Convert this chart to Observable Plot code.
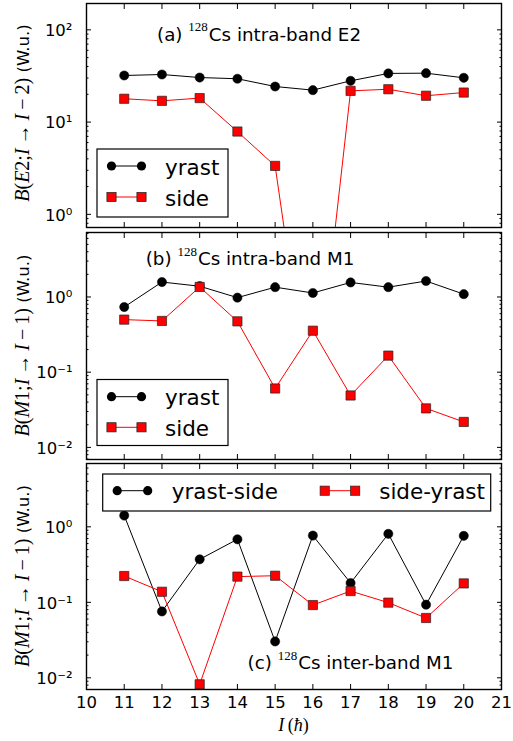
<!DOCTYPE html>
<html><head><meta charset="utf-8">
<script src="https://cdn.jsdelivr.net/npm/d3@7"></script>
<script src="https://cdn.jsdelivr.net/npm/@observablehq/plot@0.6"></script>
<style>
body{margin:0;background:#fff;}
#wrap{position:relative;width:513px;height:741px;font-family:"DejaVu Sans",sans-serif;}
#wrap > div{position:absolute;left:0;}
svg{display:block;overflow:visible}
</style></head><body><div id="wrap"></div>
<script>
// ---------------- data ----------------
const spins = [11, 12, 13, 14, 15, 16, 17, 18, 19, 20];
// (a) intra-band E2 (W.u.)
const e2Yrast = [32.0, 32.8, 30.4, 29.5, 24.3, 22.2, 28.0, 33.7, 33.9, 30.2];
const e2Side  = [17.9, 17.0, 18.2, 7.9, 3.35, 0.005, 21.8, 22.7, 19.3, 20.9];
// (b) intra-band M1 (W.u.)
const m1Yrast = [0.735, 1.58, 1.39, 0.98, 1.35, 1.13, 1.56, 1.35, 1.63, 1.09];
const m1Side  = [0.50, 0.48, 1.36, 0.474, 0.0607, 0.356, 0.049, 0.166, 0.033, 0.0218];
// (c) inter-band M1 (W.u.)
const interYrastSide = [1.41, 0.0757, 0.371, 0.684, 0.0303, 0.766, 0.180, 0.807, 0.093, 0.759];
const interSideYrast = [0.223, 0.138, 0.0082, 0.219, 0.225, 0.092, 0.141, 0.099, 0.062, 0.178];

const xTicks = [10, 11, 12, 13, 14, 15, 16, 17, 18, 19, 20, 21];
const yMajorA = [1, 10, 100];
const yMajorB = [0.01, 0.1, 1];
const yMajorC = [0.01, 0.1, 1];

const legendA = ["yrast", "side"];
const legendB = ["yrast", "side"];
const legendC = ["yrast-side", "side-yrast"];
const titleA = ["(a) ", "128", "Cs intra-band E2"];
const titleB = ["(b) ", "128", "Cs intra-band M1"];
const titleC = ["(c) ", "128", "Cs inter-band M1"];
const yLabelE2 = ["E", "2", "2"];
const yLabelM1 = ["M", "1", "1"];

// ---------------- helpers ----------------
const SERIF = "'Liberation Serif','DejaVu Serif',serif";
const SANS = "'DejaVu Sans',sans-serif";
const supMap = {"-":"\u207B","0":"\u2070","1":"\u00B9","2":"\u00B2","3":"\u00B3","4":"\u2074","5":"\u2075","6":"\u2076","7":"\u2077","8":"\u2078","9":"\u2079"};
const fmtPow = d => "10" + String(Math.round(Math.log10(d))).split("").map(c => supMap[c]).join("");
const minorTicks = dom => d3.scaleLog().domain(dom).ticks().filter(t => {
  const m = t / Math.pow(10, Math.floor(Math.log10(t) + 1e-9));
  return Math.abs(m - 1) > 1e-6;
});
const rows = (ys) => spins.map((I, i) => ({I, v: ys[i]}));

function makePanel({yDomain, yMajor, s1, s2, height, marginTop, marginBottom, xLabels}) {
  const d1 = rows(s1), d2 = rows(s2);
  const minors = minorTicks(yDomain);
  const blank = () => "";
  const marks = [
    Plot.axisX({anchor: "bottom", ticks: xTicks, tickSize: -5, tickFormat: blank, label: null}),
    Plot.axisX({anchor: "top", ticks: xTicks, tickSize: -5, tickFormat: blank, label: null}),
    Plot.axisY({anchor: "left", ticks: yMajor, tickSize: -5, tickFormat: blank, label: null}),
    Plot.axisY({anchor: "right", ticks: yMajor, tickSize: -5, tickFormat: blank, label: null}),
    Plot.axisY({anchor: "left", ticks: minors, tickSize: -2.5, tickFormat: blank, label: null}),
    Plot.axisY({anchor: "right", ticks: minors, tickSize: -2.5, tickFormat: blank, label: null}),
    Plot.axisY({anchor: "left", ticks: yMajor, tickSize: 0, tickPadding: 14, tickFormat: fmtPow, label: null, fontSize: 16.5, dy: 1}),
    Plot.line(d1, {x: "I", y: "v", stroke: "black", strokeWidth: 1, clip: true}),
    Plot.dot(d1, {x: "I", y: "v", r: 4.6, fill: "black", stroke: "black", strokeWidth: 0.5, clip: true}),
    Plot.line(d2, {x: "I", y: "v", stroke: "#ff0000", strokeWidth: 1, clip: true}),
    Plot.dot(d2, {x: "I", y: "v", symbol: "square", r: 5.2, fill: "#ff0000", stroke: "#222", strokeWidth: 0.7, clip: true}),
    Plot.frame({stroke: "black", strokeWidth: 1.4})
  ];
  if (xLabels) marks.push(Plot.axisX({anchor: "bottom", ticks: xTicks, tickSize: 0, tickPadding: 7, tickFormat: d => String(d), label: null, fontSize: 16.5}));
  return Plot.plot({
    width: 513, height, marginLeft: 86, marginRight: 12, marginTop, marginBottom,
    x: {domain: [10, 21], axis: null},
    y: {type: "log", domain: yDomain, axis: null},
    style: {fontFamily: SANS, fontSize: "16.5px", background: "white", color: "black", overflow: "visible"},
    marks
  });
}

function addTitle(svg, x, y, parts) {
  const t = d3.select(svg).append("text").attr("x", x).attr("y", y).attr("text-anchor", "start")
    .attr("font-family", SANS).attr("font-size", 18.3).attr("fill", "black");
  t.append("tspan").text(parts[0]);
  t.append("tspan").attr("font-family", SERIF).attr("font-size", 13).attr("dy", -9.5).text(parts[1]);
  t.append("tspan").attr("dy", 9.5).attr("dx", 1).text(parts[2]);
}

function addYLabel(svg, cx, cy, lab) {
  const t = d3.select(svg).append("text")
    .attr("transform", `translate(${cx},${cy}) rotate(-90)`)
    .attr("text-anchor", "middle").attr("font-size", 20).attr("fill", "black").attr("font-family", SERIF);
  const it = s => t.append("tspan").attr("font-style", "italic").text(s);
  const rm = s => t.append("tspan").text(s);
  it("B"); rm("("); it(lab[0]); rm(lab[1] + ";"); it("I"); rm("\u2009\u2192\u2009"); it("I"); rm("\u2009\u2212\u2009" + lab[2] + ")");
  t.append("tspan").attr("font-family", SANS).attr("font-size", 16.5).text("\u00A0(W.u.)");
}

function legendEntry(g, x1, x2, y, kind) {
  g.append("line").attr("x1", x1).attr("x2", x2).attr("y1", y).attr("y2", y)
    .attr("stroke", kind === "circle" ? "black" : "#ff0000").attr("stroke-width", 1);
  for (const x of [x1, x2]) {
    if (kind === "circle") g.append("circle").attr("cx", x).attr("cy", y).attr("r", 4.6).attr("fill", "black");
    else g.append("rect").attr("x", x - 4.6).attr("y", y - 4.6).attr("width", 9.2).attr("height", 9.2)
      .attr("fill", "#ff0000").attr("stroke", "#222").attr("stroke-width", 0.7);
  }
}

function legendText(g, x, y, s) {
  g.append("text").attr("x", x).attr("y", y).attr("text-anchor", "start")
    .attr("font-family", SANS).attr("font-size", 21.5).attr("fill", "black").text(s);
}

function addLegendVertical(svg, box, rowsY, labels) {
  const g = d3.select(svg).append("g");
  g.append("rect").attr("x", box[0]).attr("y", box[1]).attr("width", box[2]).attr("height", box[3])
    .attr("fill", "white").attr("stroke", "black").attr("stroke-width", 1.2);
  legendEntry(g, box[0] + 14.5, box[0] + 44.5, rowsY[0], "circle");
  legendEntry(g, box[0] + 14.5, box[0] + 44.5, rowsY[1], "square");
  labels.forEach((l, i) => legendText(g, box[0] + 68, rowsY[i] + 8.5, l));
}

function addLegendHorizontal(svg, box, rowY, labels) {
  const g = d3.select(svg).append("g");
  g.append("rect").attr("x", box[0]).attr("y", box[1]).attr("width", box[2]).attr("height", box[3])
    .attr("fill", "white").attr("stroke", "black").attr("stroke-width", 1.2);
  legendEntry(g, box[0] + 14.5, box[0] + 45, rowY, "circle");
  legendText(g, box[0] + 69, rowY + 8.5, labels[0]);
  legendEntry(g, box[0] + 222, box[0] + 252.5, rowY, "square");
  legendText(g, box[0] + 276.5, rowY + 8.5, labels[1]);
}

// ---------------- build ----------------
const wrap = document.getElementById("wrap");
function place(svg, top) { const d = document.createElement("div"); d.style.top = top + "px"; d.appendChild(svg); wrap.appendChild(d); }

const pA = makePanel({yDomain: [0.72, 193], yMajor: yMajorA, s1: e2Yrast, s2: e2Side, height: 229, marginTop: 3, marginBottom: 2});
addTitle(pA, 157, 40.5, titleA);
addLegendVertical(pA, [97, 149, 131, 68], [166, 197], legendA);
addYLabel(pA, 29, 113, yLabelE2);
place(pA, 0);

const pB = makePanel({yDomain: [0.0069, 7.2], yMajor: yMajorB, s1: m1Yrast, s2: m1Side, height: 232, marginTop: 3, marginBottom: 2});
addTitle(pB, 145.7, 36, titleB);
addLegendVertical(pB, [97, 150.5, 131, 66], [167.7, 198.3], legendB);
addYLabel(pB, 29, 116.5, yLabelM1);
place(pB, 229);

const pC = makePanel({yDomain: [0.0070, 6.9], yMajor: yMajorC, s1: interYrastSide, s2: interSideYrast, height: 280, marginTop: 2, marginBottom: 52, xLabels: true});
addTitle(pC, 247.5, 208, titleC);
addLegendHorizontal(pC, [102.7, 13, 388, 37], 29.7, legendC);
addYLabel(pC, 29, 115, yLabelM1);
{
  const t = d3.select(pC).append("text").attr("x", 293.5).attr("y", 270).attr("text-anchor", "middle")
    .attr("font-family", SERIF).attr("font-size", 18).attr("fill", "black");
  t.append("tspan").attr("font-style", "italic").text("I");
  t.append("tspan").text("\u2009(");
  t.append("tspan").attr("font-style", "italic").text("\u0127");
  t.append("tspan").text(")");
}
place(pC, 461);
</script></body></html>
